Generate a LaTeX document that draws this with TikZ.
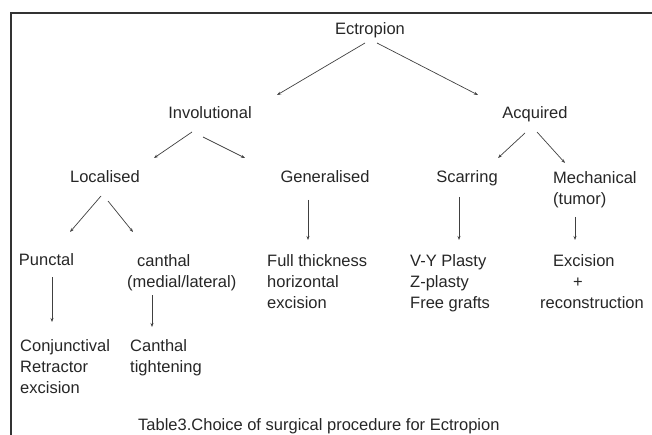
\documentclass[tikz,border=0pt]{standalone}
\usepackage{fontspec}
\setmainfont{Liberation Sans}
\usetikzlibrary{positioning, arrows.meta}
\tikzset{
  >={Stealth[length=4pt,width=3pt]},
  every node/.style={font=\fontsize{16.5}{21}\selectfont, text=black!85, inner sep=2pt},
  lbl/.style={text height=12pt, text depth=3.5pt},
  leaf/.style={align=left},
  arr/.style={->, draw=black!75, line width=0.7pt},
  frame/.style={draw=black!80, line width=2pt},
}

\begin{document}
\begin{tikzpicture}[x=1pt, y=-1pt, on grid]
    \useasboundingbox (0,0) rectangle (652,435);
    \draw[frame] (11,445) -- (11,13) -- (660,13);

    % tree
    \node[lbl] (ectro) at (370,30.7) {Ectropion};
    \node[lbl, below left=84pt and 160pt of ectro] (invol) {Involutional};
    \node[lbl, below right=84pt and 165pt of ectro] (acq) {Acquired};
    \node[lbl, below left=64pt and 105pt of invol] (local) {Localised};
    \node[lbl, below right=64pt and 115pt of invol] (general) {Generalised};
    \node[lbl, below left=64pt and 68pt of acq] (scar) {Scarring};
    \node[leaf, below right=54.2pt and 16pt of acq, anchor=north west] (mech) {Mechanical\\(tumor)};
    \node[lbl, below left=83pt and 58.5pt of local] (punct) {Punctal};
    \node[leaf, below right=73.2pt and 20pt of local, anchor=north west] (canth) {\hspace*{10pt}canthal\\(medial/lateral)};
    \node[leaf, below left=73.2pt and 60pt of general, anchor=north west] (full) {Full thickness\\horizontal\\excision};
    \node[leaf, below left=73.2pt and 59pt of scar, anchor=north west] (vy) {V-Y Plasty\\Z-plasty\\Free grafts};
    \node[leaf, below right=73.2pt and 71pt of scar, anchor=north west] (exc) {\hspace*{13pt}Excision\\\hspace*{33pt}+\\reconstruction};
    \node[leaf, below left=75.2pt and 28.5pt of punct, anchor=north west] (conj) {Conjunctival\\Retractor\\excision};
    \node[leaf, below right=75.2pt and 81.5pt of punct, anchor=north west] (tight) {Canthal\\tightening};
    \node[lbl, below right=164.5pt and 89.5pt of punct, anchor=west] (caption) {Table3.Choice of surgical procedure for Ectropion};

    % arrows
    \draw[arr] ([shift={(-5,12.3)}]ectro.center) -- ([shift={(67,-19.7)}]invol.center);
    \draw[arr] ([shift={(7,12.3)}]ectro.center) -- ([shift={(-57,-19.7)}]acq.center);
    \draw[arr] ([shift={(-18,17.3)}]invol.center) -- ([shift={(49,-20.7)}]local.center);
    \draw[arr] ([shift={(-7,22.3)}]invol.center) -- ([shift={(-80,-20.7)}]general.center);
    \draw[arr] ([shift={(-10,18.3)}]acq.center) -- ([shift={(31,-20.7)}]scar.center);
    \draw[arr] ([shift={(2,17.3)}]acq.center) -- ([shift={(14,-5.9)}]mech.north west);
    \draw[arr] ([shift={(-4,17.3)}]local.center) -- ([shift={(23.5,-29.7)}]punct.center);
    \draw[arr] ([shift={(3,22.3)}]local.center) -- ([shift={(8,-19.9)}]canth.north west);
    \draw[arr] ([shift={(-17,21.3)}]general.center) -- ([shift={(43,-11.9)}]full.north west);
    \draw[arr] ([shift={(-8,18.3)}]scar.center) -- ([shift={(51,-11.9)}]vy.north west);
    \draw[arr] ([shift={(24,48.1)}]mech.north west) -- ([shift={(37,-11.9)}]exc.north west);
    \draw[arr] ([shift={(5.5,15.3)}]punct.center) -- ([shift={(34,-14.9)}]conj.north west);
    \draw[arr] ([shift={(27,43.1)}]canth.north west) -- ([shift={(24,-9.9)}]tight.north west);
\end{tikzpicture}
\end{document}
